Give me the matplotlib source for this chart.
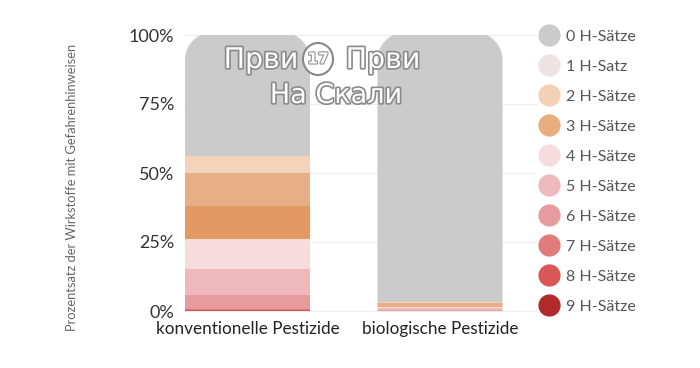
import numpy as np
import matplotlib
matplotlib.use("Agg")
import matplotlib.pyplot as plt
from matplotlib.path import Path
from matplotlib.patches import PathPatch, Ellipse
from matplotlib.lines import Line2D
import matplotlib.patheffects as pe

categories = ["konventionelle Pestizide", "biologische Pestizide"]
labels = ["0 H-Sätze", "1 H-Satz", "2 H-Sätze", "3 H-Sätze", "4 H-Sätze",
          "5 H-Sätze", "6 H-Sätze", "7 H-Sätze", "8 H-Sätze", "9 H-Sätze"]
conv = [43.8, 6.1, 12.1, 12.0, 10.9, 9.2, 5.3, 0.3, 0.3, 0.0]
bio = [96.6, 0.5, 1.5, 0.0, 0.4, 0.8, 0.2, 0.0, 0.0, 0.0]
bar_colors = ["#cbcbcb", "#f3d3b9", "#e8ae85", "#e29a62", "#f6dcde",
              "#efb9bb", "#e69b9c", "#e07a7a", "#d95454", "#b02a2a"]
legend_colors = ["#cbcbcb", "#eee3e3", "#f2d1b6", "#e8ae80", "#f6dcdf",
                 "#efbabc", "#e69c9e", "#e07c7c", "#d95757", "#b02a2a"]
yticks = [0, 25, 50, 75, 100]
ytick_labels = ["0%", "25%", "50%", "75%", "100%"]

font = "Lato"
fig = plt.figure(figsize=(7, 3.68), dpi=100)
W, H = 700, 368
# x: bar centers at 247.5 and 440 px; 192.5 px per unit
xl, xr = -0.33, 1.5
ppu = 192.5
ax_left = 247.5 + xl * ppu
ax_w = (xr - xl) * ppu
ax = fig.add_axes([ax_left / W, (368 - 311) / H, ax_w / W, 276 / H])
ax.set_xlim(xl, xr)
ax.set_ylim(0, 100)

bw = 0.65
x = np.arange(len(categories))
data = np.array([conv, bio])
for yv in yticks:
    ax.axhline(yv, color="#eeeeee", lw=0.8, zorder=0, clip_on=False)

for i in range(len(categories)):
    bottom = 0.0
    bars = []
    for k in range(len(labels) - 1, -1, -1):
        v = data[i, k]
        if v <= 0:
            continue
        b = ax.bar(x[i], v, bw, bottom=bottom, color=bar_colors[k], lw=0, zorder=2)
        bars.append(b[0])
        bottom += v
    top = bottom + 1.0
    x0, x1 = x[i] - bw / 2, x[i] + bw / 2
    rx = 28 / ppu
    ry = 28 / 2.76
    t = np.linspace(0, np.pi / 2, 30)
    right_arc = np.column_stack([x1 - rx + rx * np.cos(t), top - ry + ry * np.sin(t)])
    left_arc = np.column_stack([x0 + rx - rx * np.cos(t[::-1]), top - ry + ry * np.sin(t[::-1])])
    verts = np.vstack([[x0, 0], [x1, 0], right_arc, left_arc, [x0, 0]])
    clip = PathPatch(Path(verts), transform=ax.transData, visible=False)
    ax.add_patch(clip)
    for b in bars:
        b.set_clip_path(clip)
    if bars:
        bars[-1].set_height(bars[-1].get_height() + 1.0)

for s in ax.spines.values():
    s.set_visible(False)
ax.set_yticks(yticks)
ax.set_yticklabels(ytick_labels, fontsize=13, family=font, color="#333333")
ax.tick_params(axis="y", length=0, pad=7)
ax.set_xticks(x)
ax.set_xticklabels(categories, fontsize=12.3, family=font, color="#222222")
ax.tick_params(axis="x", length=0, pad=7)
fig.text(72 / W, 1 - 187 / H, "Prozentsatz der Wirkstoffe mit Gefahrenhinweisen",
         rotation=90, ha="center", va="center", fontsize=9.3, family=font, color="#666666")

handles = [Line2D([], [], marker="o", ls="none", markersize=15,
                  markerfacecolor=c, markeredgecolor=c) for c in legend_colors]
fig.legend(handles, labels, loc="upper left", bbox_to_anchor=(530 / W, 1 - 23 / H),
           frameon=False, prop={"family": font, "size": 11.5}, labelcolor="#555555",
           handletextpad=0.25, labelspacing=0.99, handlelength=1.6, borderaxespad=0)

stroke = [pe.withStroke(linewidth=2.4, foreground="#8a8a8a")]
fig.text(261 / W, 1 - 60 / H, "Први", ha="center", va="center", fontsize=20.5,
         family="DejaVu Sans", color="white", path_effects=stroke)
fig.text(383 / W, 1 - 60 / H, "Први", ha="center", va="center", fontsize=20.5,
         family="DejaVu Sans", color="white", path_effects=stroke)
fig.text(336 / W, 1 - 96 / H, "На Скали", ha="center", va="center", fontsize=19.5,
         family="DejaVu Sans", color="white", path_effects=stroke)
fig.patches.append(Ellipse((318 / W, 1 - 59 / H), 30 / W, 32 / H,
                   transform=fig.transFigure, facecolor="white", edgecolor="#888888", lw=1.5))
fig.text(318 / W, 1 - 59 / H, "17", ha="center", va="center", fontsize=11, weight="bold",
         family="DejaVu Sans", color="white",
         path_effects=[pe.withStroke(linewidth=1.5, foreground="#888888")])

fig.savefig("out.png", dpi=100)
